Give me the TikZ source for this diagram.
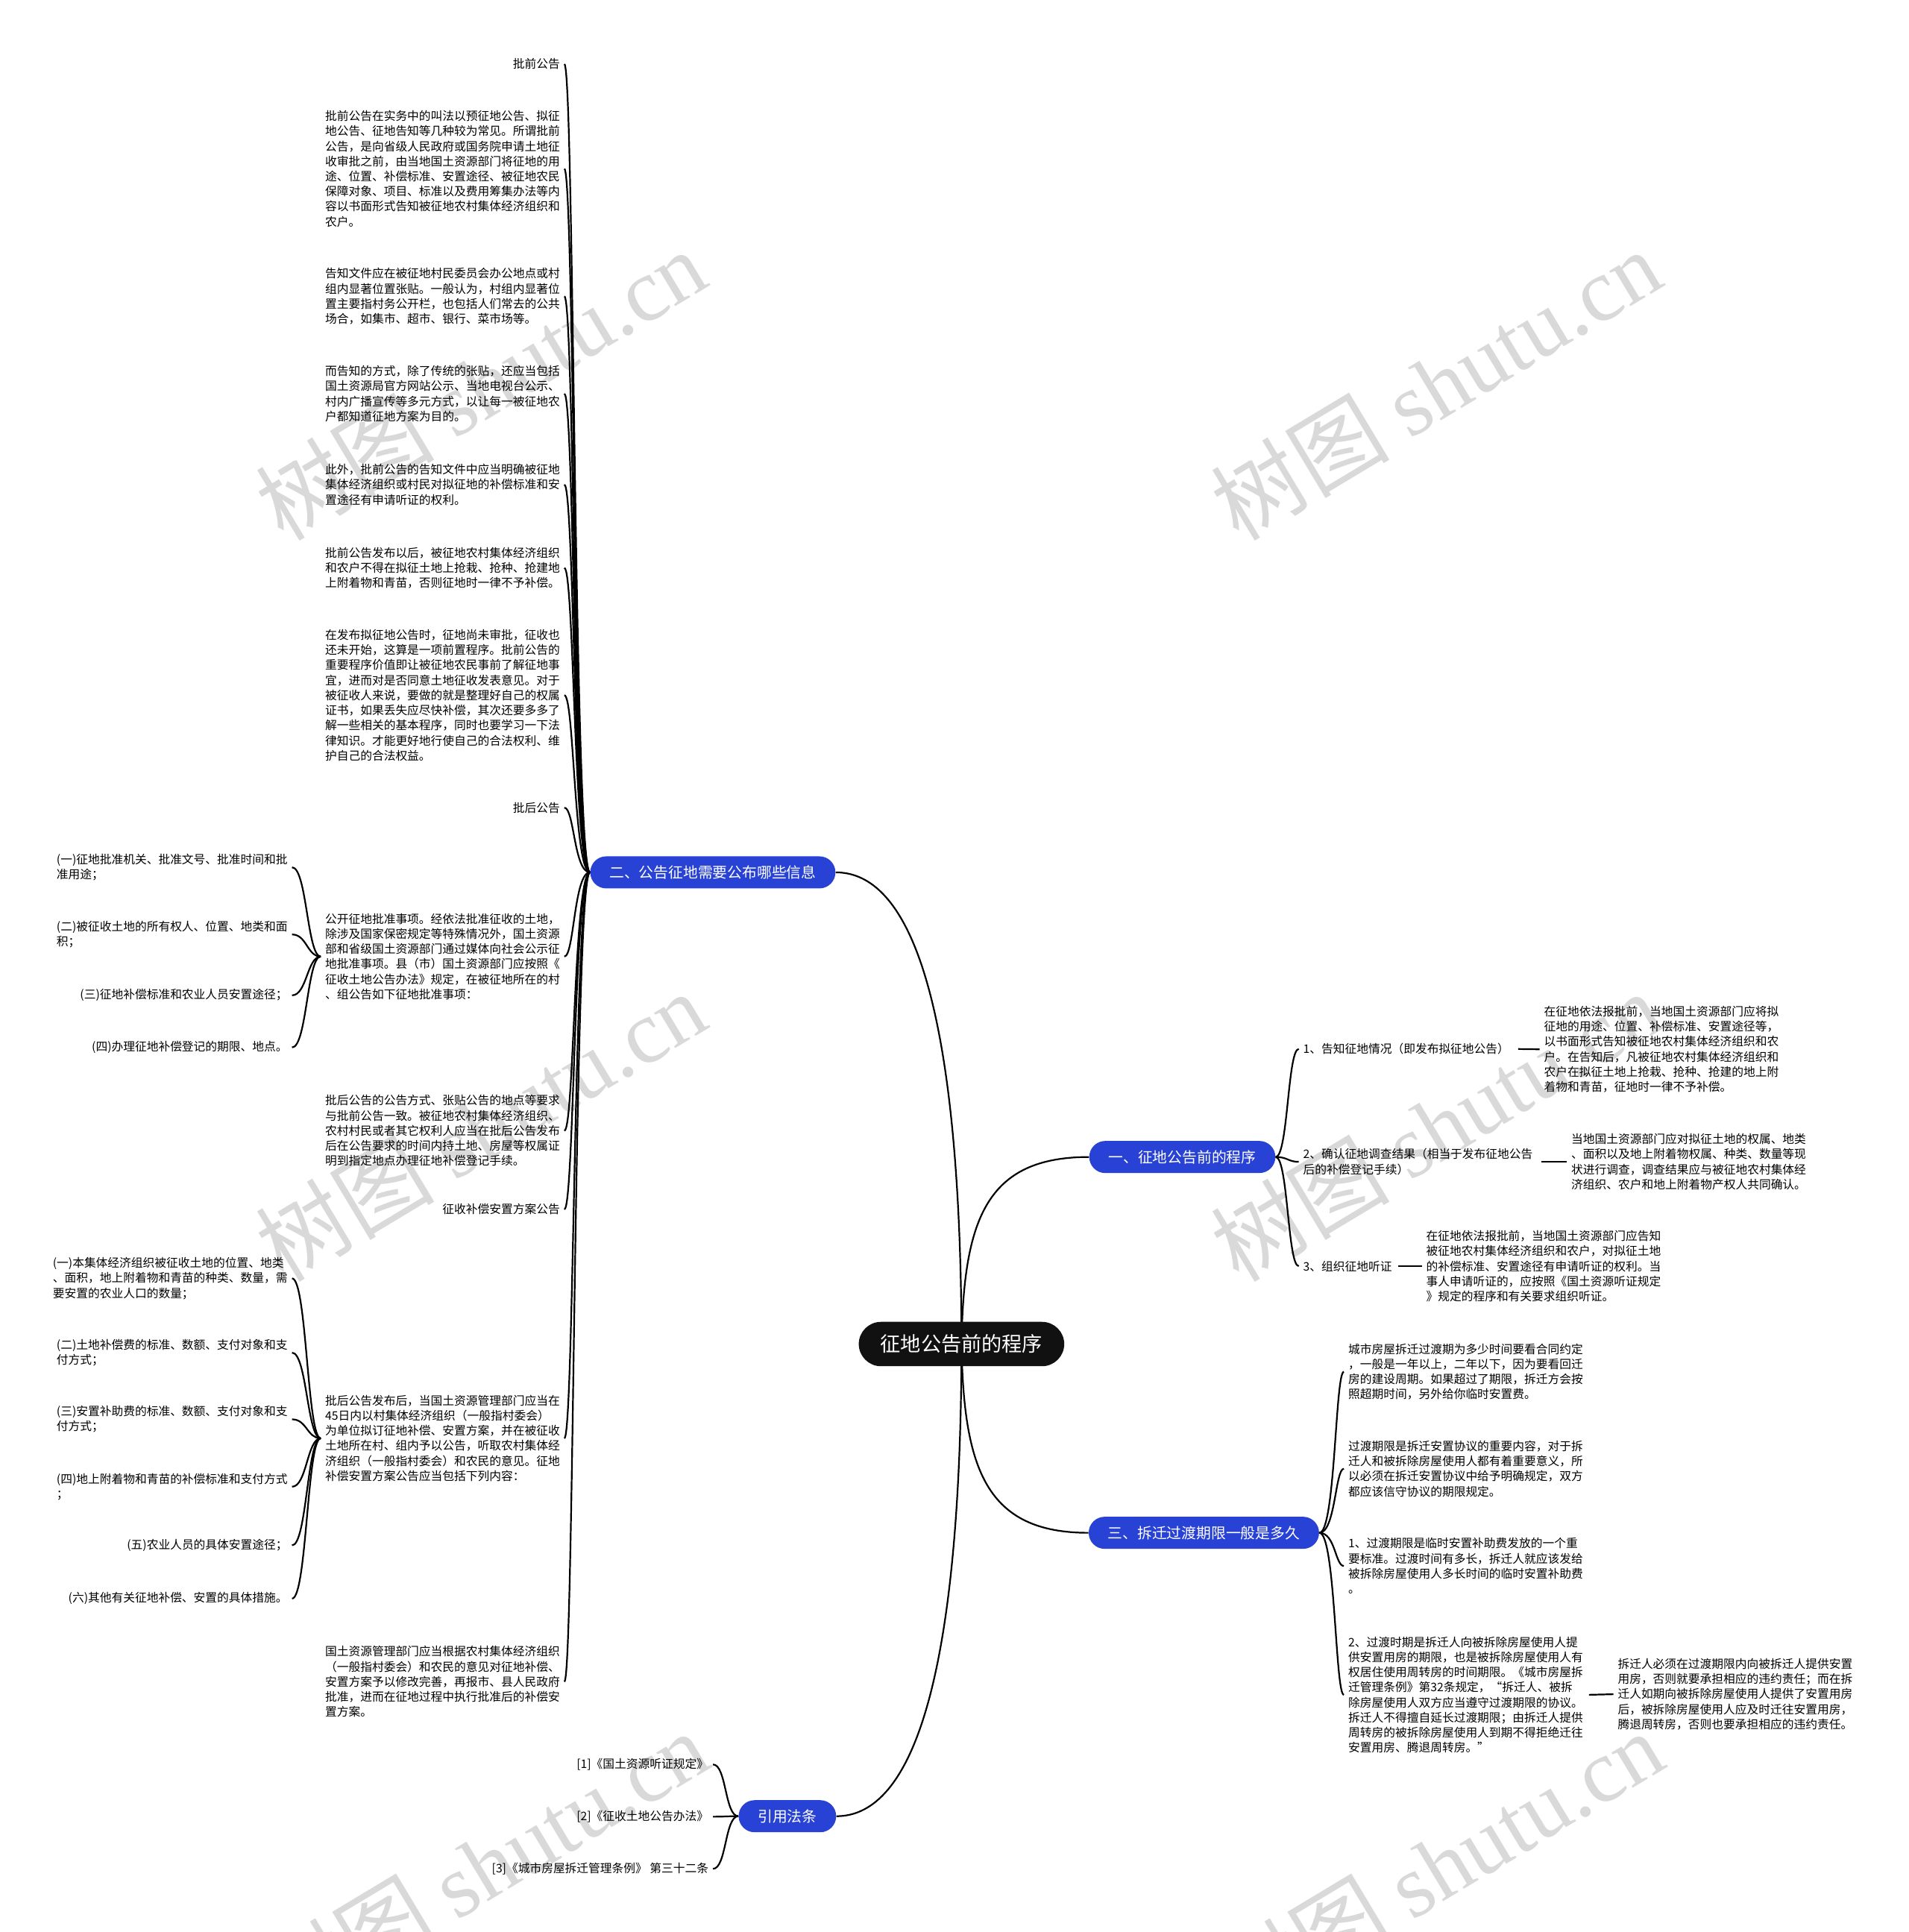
\documentclass[tikz,border=0pt]{standalone}
\usepackage{fontspec}
\setmainfont{Noto Sans CJK SC}
\newfontfamily\wmlatinfont{Liberation Serif}
\newfontfamily\wmcjkfont{Noto Sans CJK SC}
\pgfdeclarelayer{wmlayer}
\pgfdeclarelayer{edgelayer}
\pgfsetlayers{wmlayer,edgelayer,main}
\definecolor{blueC}{RGB}{40,66,214}
\definecolor{rootC}{RGB}{17,17,17}
\newcommand\mmtxt{\fontsize{7.87pt}{10.12pt}\selectfont}
\newcommand\mmbr{\fontsize{9.9pt}{12pt}\selectfont}
\newcommand\mmroot{\fontsize{13.6pt}{16pt}\selectfont}
\newcommand\mmwm{\fontsize{60pt}{68pt}\selectfont}
\begin{document}
\begin{tikzpicture}[x=0.8264pt,y=-0.8264pt,
 conn/.style={line width=1.1pt, black},
 tl/.style={font=\mmtxt, inner sep=0pt, outer xsep=3pt, anchor=east, align=left},
 tr/.style={font=\mmtxt, inner sep=0pt, outer xsep=3pt, anchor=west, align=left},
 brn/.style={fill=blueC, text=white, font=\mmbr, rounded corners=10.7pt, minimum height=21.5pt, inner xsep=12.9pt, inner ysep=0pt},
 rootn/.style={fill=rootC, text=white, font=\mmroot, rounded corners=14.9pt, minimum height=29.75pt, inner xsep=14.5pt, inner ysep=0pt},
 wm/.style={text=black!15, rotate=31, inner sep=0pt, font=\mmwm}]

\useasboundingbox (0,0) rectangle (1549,1568);

\begin{pgfonlayer}{wmlayer}
\fill[white] (0,0) rectangle (1549,1568);
\foreach \wx/\wy [count=\i] in {390/312,1165/312,390/914,1165/914,392/1514,1167/1514}
  \node[wm] (wm\i) at (\wx,\wy) {\wmcjkfont 树图 \wmlatinfont shutu.cn};
\end{pgfonlayer}

% root and branches
\node[rootn] (root) at (780.3,1090.8) {征地公告前的程序};
\node[brn] (b2) at (578.5,708) {二、公告征地需要公布哪些信息};
\node[brn] (b1) at (959.5,939) {一、征地公告前的程序};
\node[brn] (b3) at (977,1244) {三、拆迁过渡期限一般是多久};
\node[brn] (b4) at (639,1474) {引用法条};

% left column (branch 2)
\node[tl] (n1) at (458,52) {批前公告};
\node[tl] (p1) at (458,137) {批前公告在实务中的叫法以预征地公告、拟征\\地公告、征地告知等几种较为常见。所谓批前\\公告，是向省级人民政府或国务院申请土地征\\收审批之前，由当地国土资源部门将征地的用\\途、位置、补偿标准、安置途径、被征地农民\\保障对象、项目、标准以及费用筹集办法等内\\容以书面形式告知被征地农村集体经济组织和\\农户。};
\node[tl] (p2) at (458,240.5) {告知文件应在被征地村民委员会办公地点或村\\组内显著位置张贴。一般认为，村组内显著位\\置主要指村务公开栏，也包括人们常去的公共\\场合，如集市、超市、银行、菜市场等。};
\node[tl] (p3) at (458,319.5) {而告知的方式，除了传统的张贴，还应当包括\\国土资源局官方网站公示、当地电视台公示、\\村内广播宣传等多元方式，以让每一被征地农\\户都知道征地方案为目的。};
\node[tl] (p4) at (458,393.3) {此外，批前公告的告知文件中应当明确被征地\\集体经济组织或村民对拟征地的补偿标准和安\\置途径有申请听证的权利。};
\node[tl] (p5) at (458,460.9) {批前公告发布以后，被征地农村集体经济组织\\和农户不得在拟征土地上抢栽、抢种、抢建地\\上附着物和青苗，否则征地时一律不予补偿。};
\node[tl] (p6) at (458,564.2) {在发布拟征地公告时，征地尚未审批，征收也\\还未开始，这算是一项前置程序。批前公告的\\重要程序价值即让被征地农民事前了解征地事\\宜，进而对是否同意土地征收发表意见。对于\\被征收人来说，要做的就是整理好自己的权属\\证书，如果丢失应尽快补偿，其次还要多多了\\解一些相关的基本程序，同时也要学习一下法\\律知识。才能更好地行使自己的合法权利、维\\护自己的合法权益。};
\node[tl] (n2) at (458,655.5) {批后公告};
\node[tl] (p7) at (458,776.3) {公开征地批准事项。经依法批准征收的土地，\\除涉及国家保密规定等特殊情况外，国土资源\\部和省级国土资源部门通过媒体向社会公示征\\地批准事项。县（市）国土资源部门应按照《\\征收土地公告办法》规定，在被征地所在的村\\、组公告如下征地批准事项：};
\node[tl] (p8) at (458,917.7) {批后公告的公告方式、张贴公告的地点等要求\\与批前公告一致。被征地农村集体经济组织、\\农村村民或者其它权利人应当在批后公告发布\\后在公告要求的时间内持土地、房屋等权属证\\明到指定地点办理征地补偿登记手续。};
\node[tl] (n3) at (458,981.5) {征收补偿安置方案公告};
\node[tl] (p9) at (458,1167.3) {批后公告发布后，当国土资源管理部门应当在\\45日内以村集体经济组织（一般指村委会）\\为单位拟订征地补偿、安置方案，并在被征收\\土地所在村、组内予以公告，听取农村集体经\\济组织（一般指村委会）和农民的意见。征地\\补偿安置方案公告应当包括下列内容：};
\node[tl] (p10) at (458,1364.8) {国土资源管理部门应当根据农村集体经济组织\\（一般指村委会）和农民的意见对征地补偿、\\安置方案予以修改完善，再报市、县人民政府\\批准，进而在征地过程中执行批准后的补偿安\\置方案。};

% far left items
\node[tl] (c71) at (237,703.9) {(一)征地批准机关、批准文号、批准时间和批\\准用途；};
\node[tl] (c72) at (237,758.4) {(二)被征收土地的所有权人、位置、地类和面\\积；};
\node[tl] (c73) at (237,807.8) {(三)征地补偿标准和农业人员安置途径；};
\node[tl] (c74) at (237,850.1) {(四)办理征地补偿登记的期限、地点。};
\node[tl] (c91) at (237,1037.5) {(一)本集体经济组织被征收土地的位置、地类\\、面积，地上附着物和青苗的种类、数量，需\\要安置的农业人口的数量；};
\node[tl] (c92) at (237,1097.8) {(二)土地补偿费的标准、数额、支付对象和支\\付方式；};
\node[tl] (c93) at (237,1151.9) {(三)安置补助费的标准、数额、支付对象和支\\付方式；};
\node[tl] (c94) at (237,1206.6) {(四)地上附着物和青苗的补偿标准和支付方式\\；};
\node[tl] (c95) at (237,1254.2) {(五)农业人员的具体安置途径；};
\node[tl] (c96) at (237,1297.4) {(六)其他有关征地补偿、安置的具体措施。};

% right side branch 1
\node[tr] (t1) at (1054,851.3) {1、告知征地情况（即发布拟征地公告）};
\node[tr] (t1p) at (1249.4,851.6) {在征地依法报批前，当地国土资源部门应将拟\\征地的用途、位置、补偿标准、安置途径等，\\以书面形式告知被征地农村集体经济组织和农\\户。在告知后，凡被征地农村集体经济组织和\\农户在拟征土地上抢栽、抢种、抢建的地上附\\着物和青苗，征地时一律不予补偿。};
\node[tr] (t2) at (1054,942.9) {2、确认征地调查结果（相当于发布征地公告\\后的补偿登记手续）};
\node[tr] (t2p) at (1271.6,942.9) {当地国土资源部门应对拟征土地的权属、地类\\、面积以及地上附着物权属、种类、数量等现\\状进行调查，调查结果应与被征地农村集体经\\济组织、农户和地上附着物产权人共同确认。};
\node[tr] (t3) at (1054,1027.6) {3、组织征地听证};
\node[tr] (t3p) at (1153.8,1027.6) {在征地依法报批前，当地国土资源部门应告知\\被征地农村集体经济组织和农户，对拟征土地\\的补偿标准、安置途径有申请听证的权利。当\\事人申请听证的，应按照《国土资源听证规定\\》规定的程序和有关要求组织听证。};

% right side branch 3
\node[tr] (s1) at (1090.6,1113.3) {城市房屋拆迁过渡期为多少时间要看合同约定\\，一般是一年以上，二年以下，因为要看回迁\\房的建设周期。如果超过了期限，拆迁方会按\\照超期时间，另外给你临时安置费。};
\node[tr] (s2) at (1090.6,1192) {过渡期限是拆迁安置协议的重要内容，对于拆\\迁人和被拆除房屋使用人都有着重要意义，所\\以必须在拆迁安置协议中给予明确规定，双方\\都应该信守协议的期限规定。};
\node[tr] (s3) at (1090.6,1270.9) {1、过渡期限是临时安置补助费发放的一个重\\要标准。过渡时间有多长，拆迁人就应该发给\\被拆除房屋使用人多长时间的临时安置补助费\\。};
\node[tr] (s4) at (1090.6,1375.5) {2、过渡时期是拆迁人向被拆除房屋使用人提\\供安置用房的期限，也是被拆除房屋使用人有\\权居住使用周转房的时间期限。《城市房屋拆\\迁管理条例》第32条规定，“拆迁人、被拆\\除房屋使用人双方应当遵守过渡期限的协议。\\拆迁人不得擅自延长过渡期限；由拆迁人提供\\周转房的被拆除房屋使用人到期不得拒绝迁往\\安置用房、腾退周转房。”};
\node[tr] (s4p) at (1309.3,1375) {拆迁人必须在过渡期限内向被拆迁人提供安置\\用房，否则就要承担相应的违约责任；而在拆\\迁人如期向被拆除房屋使用人提供了安置用房\\后，被拆除房屋使用人应及时迁往安置用房，\\腾退周转房，否则也要承担相应的违约责任。};

% branch 4
\node[tl] (r1) at (578.6,1432) {[1]《国土资源听证规定》};
\node[tl] (r2) at (578.6,1474.4) {[2]《征收土地公告办法》};
\node[tl] (r3) at (578.6,1516.7) {[3]《城市房屋拆迁管理条例》 第三十二条};

\begin{pgfonlayer}{edgelayer}
\draw[conn] (root.center) .. controls (780,900) and (760,708) .. (b2.east);
\draw[conn] (root.center) .. controls (782,990) and (800,939) .. (b1.west);
\draw[conn] (root.center) .. controls (782,1192) and (800,1244) .. (b3.west);
\draw[conn] (root.center) .. controls (780,1282) and (760,1474) .. (b4.east);
\foreach \c in {n1,p1,p2,p3,p4,p5,p6,n2,p7,p8,n3,p9,p10}
  \draw[conn] (b2.west) .. controls +(-13,0) and +(8,0) .. (\c.east);
\foreach \c in {c71,c72,c73,c74}
  \draw[conn] (p7.west) .. controls +(-11,0) and +(12,0) .. (\c.east);
\foreach \c in {c91,c92,c93,c94,c95,c96}
  \draw[conn] (p9.west) .. controls +(-11,0) and +(12,0) .. (\c.east);
\foreach \c in {t1,t2,t3}
  \draw[conn] (b1.east) .. controls +(10,0) and +(-9,0) .. (\c.west);
\draw[conn, shorten <=3pt] (t1.east) -- (t1p.west);
\draw[conn, shorten <=3pt] (t2.east) -- (t2p.west);
\draw[conn, shorten <=1pt] (t3.east) -- (t3p.west);
\foreach \c in {s1,s2,s3,s4}
  \draw[conn] (b3.east) .. controls +(13,0) and +(-7,0) .. (\c.west);
\draw[conn, shorten <=1pt] (s4.east) -- (s4p.west);
\foreach \c in {r1,r2,r3}
  \draw[conn] (b4.west) .. controls +(-11,0) and +(11,0) .. (\c.east);
\end{pgfonlayer}
\end{tikzpicture}
\end{document}
